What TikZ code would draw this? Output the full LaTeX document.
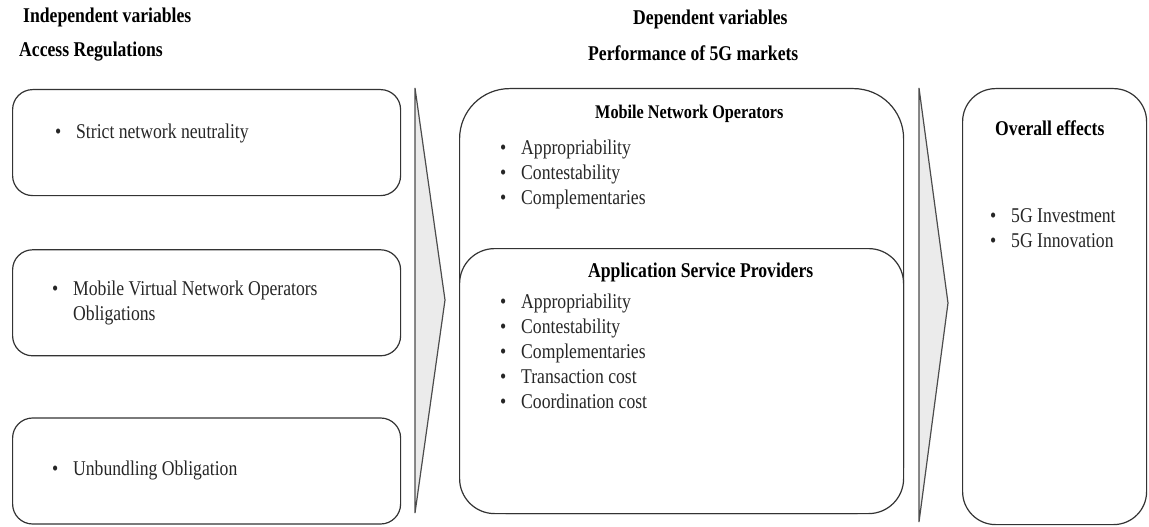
\documentclass[tikz,border=0pt]{standalone}
\usepackage{fontspec}
\setmainfont[FakeStretch=0.84]{Liberation Serif}
\usetikzlibrary{positioning}

\newcommand{\listdot}{\makebox[21pt][l]{\textbullet}}

\begin{document}
\begin{tikzpicture}[
  x=1pt, y=-1pt,
  font=\fontsize{21}{25}\selectfont,
  box/.style={draw=black!80, line width=1.2pt, rounded corners=20pt, inner sep=0pt, minimum width=388pt, minimum height=106pt},
  head/.style={anchor=base west, inner sep=0pt, font=\fontsize{21}{25}\selectfont\bfseries},
  items/.style={anchor=base west, inner sep=0pt, align=left, text=black!85},
  bigarrow/.style={draw=black!70, line width=1.2pt, fill=black!8, line join=miter}
]

\useasboundingbox (0,0) rectangle (1149,527);

% --- Column headings ----------------------------------------------------------
\node[head] (indep)  at (23,23)  {Independent variables};
\node[head] (access) at (19,57)  {Access Regulations};
\node[head] (dep)    at (633,25) {Dependent variables};
\node[head] (perf)   at (588,60) {Performance of 5G markets};

% --- Access regulations (left column) -----------------------------------------
\node[box, anchor=north west] (strict) at (12,89) {};
\node[box, below=53pt of strict] (mvno) {};
\node[box, below=61pt of mvno] (unbundle) {};

% lists are placed by the baseline of their last line
\node[items] (strictlist) at (55,138) {\listdot Strict network neutrality};
\node[items] (mvnolist)   at (52,320) {\listdot Mobile Virtual Network Operators\\\hspace*{21pt}Obligations};
\node[items] (unblist)    at (52,475) {\listdot Unbundling Obligation};

% --- Big arrows between the columns -------------------------------------------
\draw[bigarrow] (415,88) -- (445,300) -- (415,513) -- cycle;
\draw[bigarrow] (919,88) -- (948,303) -- (919,522) -- cycle;

% --- Performance of 5G markets (middle column) --------------------------------
\node[box, anchor=north west, rounded corners=50pt, minimum width=444pt, minimum height=425pt] (mno) at (459,88) {};
\node[box, anchor=north west, rounded corners=35pt, minimum width=444pt, minimum height=265pt, fill=white] (asp) at (459,248) {};

\node[head, font=\fontsize{19.3}{25}\selectfont\bfseries] (mnohead) at (595,118) {Mobile Network Operators};
\node[items] (mnolist) at (500,204)
{\listdot Appropriability\\\listdot Contestability\\\listdot Complementaries};

\node[head] (asphead) at (588,277) {Application Service Providers};
\node[items] (asplist) at (500,408)
{\listdot Appropriability\\\listdot Contestability\\\listdot Complementaries\\\listdot Transaction cost\\\listdot Coordination cost};

% --- Overall effects (right column) -------------------------------------------
\node[box, anchor=north west, rounded corners=33pt, minimum width=184pt, minimum height=436pt] (effects) at (962,88) {};
\node[head] (effhead) at (995,135) {Overall effects};
\node[items] (efflist) at (990,247) {\listdot 5G Investment\\\listdot 5G Innovation};

\end{tikzpicture}
\end{document}
